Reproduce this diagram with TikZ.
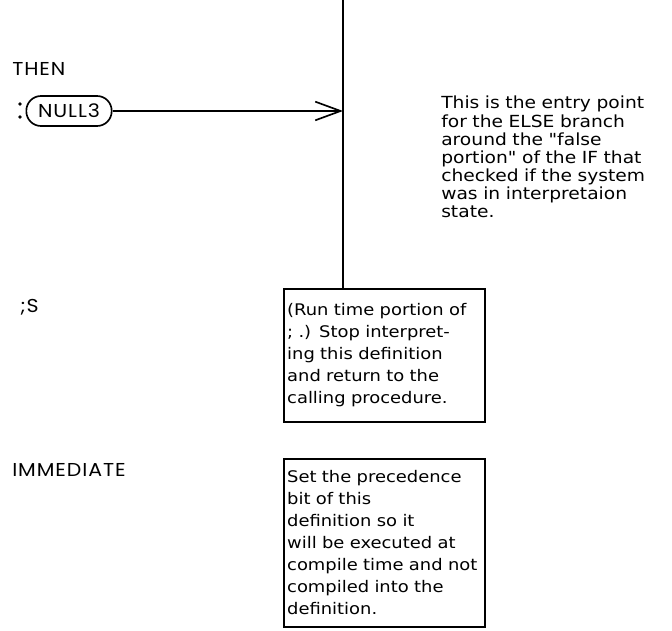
\documentclass[tikz,border=0pt]{standalone}
\usepackage{fontspec}
\setmainfont{DejaVu Sans}[Ligatures=TeXOff, FakeStretch=1.12]
\newfontfamily\labelfont{Poppins}[FakeStretch=1.1, LetterSpace=5]
\usetikzlibrary{arrows.meta,positioning}

\begin{document}
\begin{tikzpicture}[x=0.75pt, y=-0.75pt,
  word/.style={font=\labelfont\fontsize{14}{16}\selectfont, inner sep=0pt, anchor=north west},
  note/.style={font=\fontsize{12.5}{13.6}\selectfont, align=left, inner sep=0pt, anchor=north west, text width=175pt},
  descbox/.style={draw, line width=1.25pt, anchor=north west, align=left, text width=146pt, inner xsep=2.5pt, inner ysep=3pt, font=\fontsize{12}{16.5}\selectfont},
  oval/.style={draw, line width=1.25pt, rounded corners=11pt, minimum width=64pt, minimum height=22.5pt, inner sep=1pt, font=\labelfont\fontsize{14}{16}\selectfont},
  dot/.style={circle, fill=black, inner sep=0pt, minimum size=2.8pt},
  >={Straight Barb[length=19pt, width=14pt, line width=1.25pt]}
]
\useasboundingbox (0,0) rectangle (672,631);

% word THEN and its entry point
\node[word] (then) at (12,62) {THEN};
\node[dot] (dotA) at (20,104) {};
\node[dot] (dotB) at (20,117) {};
\node[oval] (null) at (69,111) {NULL3};
\coordinate (top) at (343,0);
\node[note] (entry) at (441,96) {This is the entry point\\for the ELSE branch\\around the "false\\portion" of the IF that\\checked if the system\\was in interpretaion\\state.};

% word ;S
\node[word] (semi) at (20,299) {;S};
\node[descbox, minimum height=100pt] (runbox) at (283,288) {(Run time portion of\\; .) Stop interpret-\\ing this definition\\and return to the\\calling procedure.};

% word IMMEDIATE
\node[word] (immed) at (12,463) {IMMEDIATE};
\node[descbox, minimum height=126pt] (precbox) at (283,458) {Set the precedence\\bit of this\\definition so it\\will be executed at\\compile time and not\\compiled into the\\definition.};

\draw[line width=1.25pt] (top) -- (top |- runbox.north);
\draw[line width=1.25pt, ->] (null.east) -- (null.east -| top);
\end{tikzpicture}
\end{document}
